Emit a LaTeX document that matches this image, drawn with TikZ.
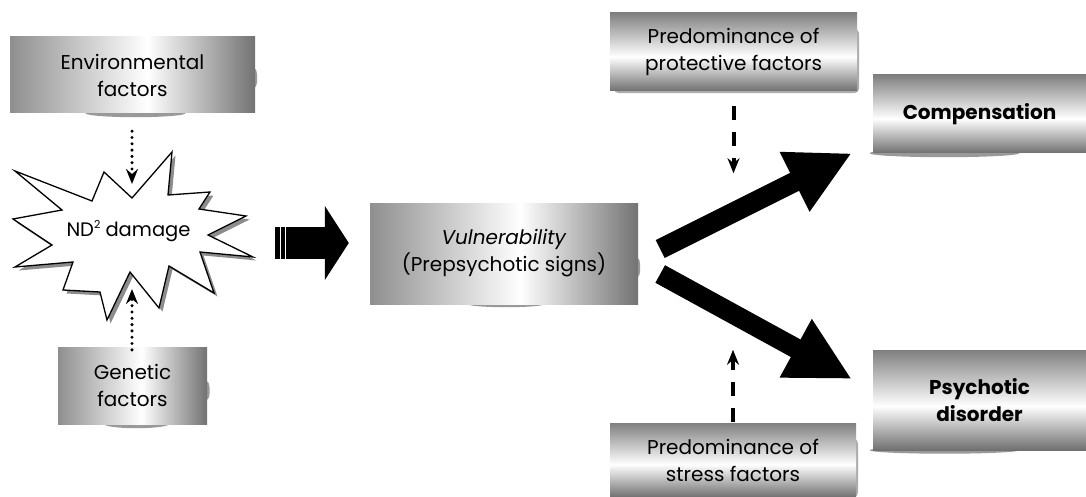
\documentclass[tikz,border=0pt]{standalone}
\usepackage{fontspec}
\setmainfont{Poppins}
\usetikzlibrary{arrows.meta,calc,backgrounds}

% panel colours
\definecolor{edgeL}{gray}{0.56}
\definecolor{edgeR}{gray}{0.45}
\definecolor{edgeT}{gray}{0.50}
\definecolor{edgeB}{gray}{0.44}
\definecolor{curlgray}{gray}{0.60}
\definecolor{burstshadow}{gray}{0.55}

% metallic sheen: left-to-right and top-to-bottom
\pgfdeclarehorizontalshading{sheenh}{100bp}{color(0bp)=(edgeL); color(25bp)=(edgeL); color(53bp)=(white); color(75bp)=(edgeR); color(100bp)=(edgeR)}
\pgfdeclareverticalshading{sheenv}{100bp}{color(0bp)=(edgeB); color(25bp)=(edgeB); color(47bp)=(white); color(75bp)=(edgeT); color(100bp)=(edgeT)}

\tikzset{
  txt/.style={font=\fontsize{20}{27}\selectfont, align=center, inner sep=0pt},
  hpanel/.style={txt, rectangle, shading=sheenh},
  vpanel/.style={txt, rectangle, shading=sheenv},
  curl/.style={fill=curlgray},
  dotarrow/.style={line width=3.4pt, line cap=round, dash pattern=on 0pt off 6.3pt,
    -{Stealth[length=15pt,width=12pt,inset=5pt]}},
  dasharrow/.style={line width=4pt, dash pattern=on 14pt off 12pt,
    -{Stealth[length=15pt,width=12pt,inset=5pt]}},
  bigarrow/.style={line width=20pt, -{Triangle[length=64pt,width=62pt]}},
  fatarrow/.style={line width=32pt, -{Triangle[length=24pt,width=73pt]}}
}

\begin{document}
\begin{tikzpicture}[x=1pt,y=-1pt]
\useasboundingbox (0,0) rectangle (1086,497);

% panels
\node[hpanel, minimum width=245pt, minimum height=76pt] (env) at (132.5,75) {Environmental\\factors};
\node[hpanel, minimum width=149pt, minimum height=77pt] (gen) at (132.5,385.5) {Genetic\\factors};
\node[hpanel, minimum width=268pt, minimum height=101pt] (vuln) at (504,253.5) {\textit{Vulnerability}\\(Prepsychotic signs)};
\node[vpanel, minimum width=247pt, minimum height=78pt] (prot) at (733.5,52) {Predominance of\\protective factors};
\node[vpanel, minimum width=213pt, minimum height=78pt] (comp) at (979.5,114) {\textbf{Compensation}};
\node[vpanel, minimum width=213pt, minimum height=100pt] (psy) at (979.5,400) {\textbf{Psychotic}\\\textbf{disorder}};
\node[vpanel, minimum width=246pt, minimum height=74pt] (stress) at (733,460) {Predominance of\\stress factors};

% soft curled shadows behind the panels
\begin{scope}[on background layer]
  \fill[curl] ($(env.south)+(3,0)$) ellipse (50pt and 4pt);
  \fill[curl] ($(env.east)+(0,3)$) ellipse (2pt and 9pt);
  \fill[curl] ($(gen.south)+(4,0)$) ellipse (32pt and 4pt);
  \fill[curl] ($(gen.east)+(0,5)$) ellipse (2.5pt and 9pt);
  \fill[curl] ($(vuln.south)+(2,0)$) ellipse (38pt and 3pt);
  \fill[curl] ($(vuln.east)+(0,14)$) ellipse (2pt and 9pt);
  \fill[gray!65, rounded corners=5pt] ($(prot.north west)+(4,16)$) rectangle ($(prot.south east)+(2,2)$);
  \fill[curl] ($(comp.south)+(-35,0)$) ellipse (75pt and 4pt);
  \fill[curl] ($(psy.south)+(-35,0)$) ellipse (75pt and 3.5pt);
  \fill[gray!65, rounded corners=5pt] ($(stress.north west)+(4,16)$) rectangle ($(stress.south east)+(2,0)$);
\end{scope}

% ND2 damage burst with its drop shadow
\begin{scope}[shift={(3.5,3.5)}]
  \fill[burstshadow] (15,171) -- (92,201) -- (104,172) -- (132,198) -- (172,152) -- (168,195)
    -- (210,192) -- (199,209) -- (246,216) -- (208,235) -- (253,257) -- (200,252) -- (214,293)
    -- (169,266) -- (159,308) -- (130,272) -- (107,320) -- (100,292) -- (63,290) -- (73,262)
    -- (15,267) -- (52,245) -- (13,219) -- (62,210) -- cycle;
\end{scope}
\draw[fill=white, line width=1.3pt, line join=miter] (15,171) -- (92,201) -- (104,172) -- (132,198) -- (172,152) -- (168,195)
    -- (210,192) -- (199,209) -- (246,216) -- (208,235) -- (253,257) -- (200,252) -- (214,293)
    -- (169,266) -- (159,308) -- (130,272) -- (107,320) -- (100,292) -- (63,290) -- (73,262)
    -- (15,267) -- (52,245) -- (13,219) -- (62,210) -- cycle;
\node[txt, font=\fontsize{19.5}{24}\selectfont] (nd) at (128.5,231) {ND\raisebox{0.75ex}{\fontsize{11}{11}\selectfont 2} damage};

% dotted feeds into the burst
\coordinate (burstTop) at (132,184);
\coordinate (burstBot) at (132,289);
\draw[dotarrow] ($(env.south)+(-0.5,18)$) -- (burstTop);
\draw[dotarrow] ($(gen.north)+(-0.5,3)$) -- (burstBot);

% block arrow into vulnerability
\coordinate (fatTail) at (275,243);
\coordinate (fatTip) at ($(vuln.west)+(-21,-10.5)$);
\draw[fatarrow] (fatTail) -- (fatTip);
\draw[white, line width=1.2pt] (280.5,226) -- (280.5,261) (285.5,226) -- (285.5,261);

% two outcomes
\coordinate (upTail) at ($(vuln.east)+(22,-4.5)$);
\coordinate (upTip) at ($(comp.south west)+(-21,0)$);
\coordinate (dnTail) at ($(vuln.east)+(22,20.5)$);
\coordinate (dnTip) at ($(psy.west)+(-21,-21)$);
\draw[bigarrow] (upTail) -- (upTip);
\draw[bigarrow] (dnTail) -- (dnTip);

% modifying factors
\coordinate (protTip) at ($(prot.south)+(0,82)$);
\coordinate (stressTip) at ($(stress.north)+(0,-73)$);
\draw[dasharrow] ($(prot.south)+(0,15)$) -- (protTip);
\draw[dasharrow] ($(stress.north)+(0,-1)$) -- (stressTip);
\end{tikzpicture}
\end{document}
